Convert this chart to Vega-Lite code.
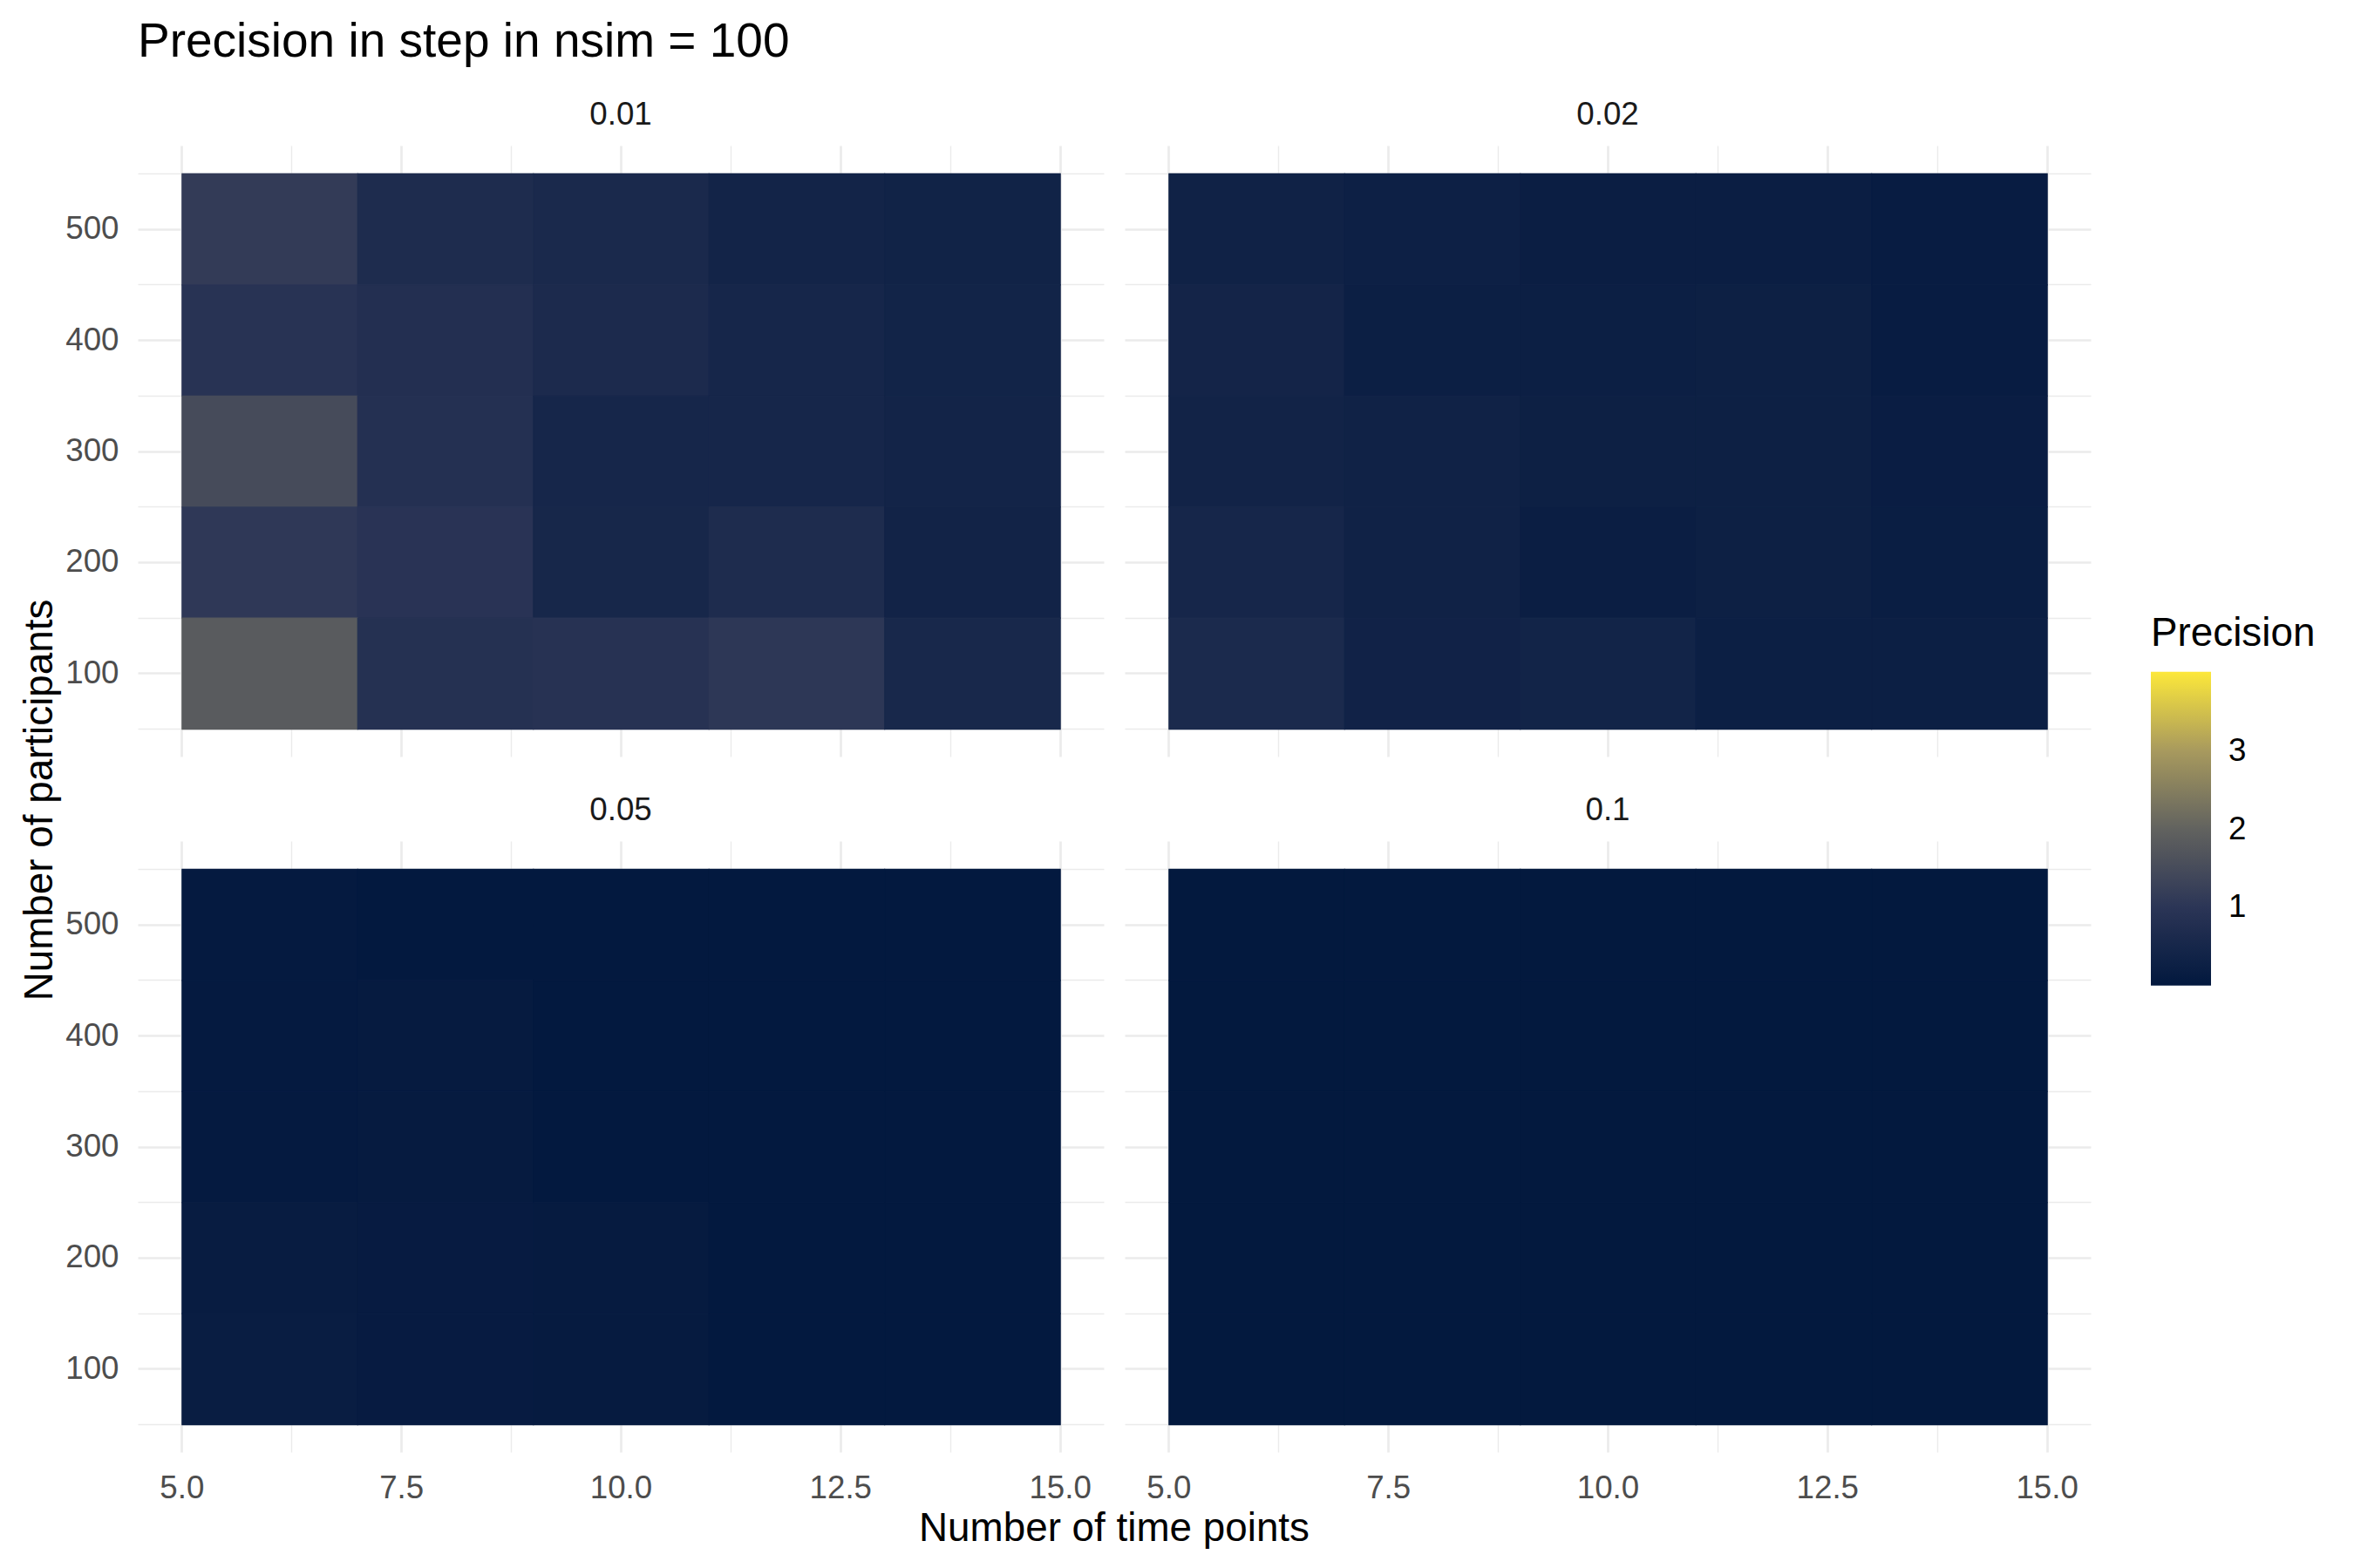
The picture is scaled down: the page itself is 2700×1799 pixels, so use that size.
{
  "$schema": "https://vega.github.io/schema/vega-lite/v6.json",
  "background": "white",
  "padding": {"left": 23, "top": 20, "right": 0, "bottom": 0},
  "title": {"text": "Precision in step in nsim = 100", "anchor": "start", "frame": "group", "fontSize": 55, "fontWeight": "normal", "color": "black", "font": "Liberation Sans", "offset": 37},
  "bounds": "flush",
  "spacing": {"row": 97, "column": 24},
  "data": {"values": [
    {"step": "0.01", "time": 6, "n": 500, "precision": 1.15}, {"step": "0.01", "time": 8, "n": 500, "precision": 0.68}, {"step": "0.01", "time": 10, "n": 500, "precision": 0.6}, {"step": "0.01", "time": 12, "n": 500, "precision": 0.42}, {"step": "0.01", "time": 14, "n": 500, "precision": 0.37},
    {"step": "0.01", "time": 6, "n": 400, "precision": 0.92}, {"step": "0.01", "time": 8, "n": 400, "precision": 0.8}, {"step": "0.01", "time": 10, "n": 400, "precision": 0.63}, {"step": "0.01", "time": 12, "n": 400, "precision": 0.5}, {"step": "0.01", "time": 14, "n": 400, "precision": 0.4},
    {"step": "0.01", "time": 6, "n": 300, "precision": 1.5}, {"step": "0.01", "time": 8, "n": 300, "precision": 0.83}, {"step": "0.01", "time": 10, "n": 300, "precision": 0.5}, {"step": "0.01", "time": 12, "n": 300, "precision": 0.5}, {"step": "0.01", "time": 14, "n": 300, "precision": 0.42},
    {"step": "0.01", "time": 6, "n": 200, "precision": 1.07}, {"step": "0.01", "time": 8, "n": 200, "precision": 0.95}, {"step": "0.01", "time": 10, "n": 200, "precision": 0.52}, {"step": "0.01", "time": 12, "n": 200, "precision": 0.68}, {"step": "0.01", "time": 14, "n": 200, "precision": 0.38},
    {"step": "0.01", "time": 6, "n": 100, "precision": 1.85}, {"step": "0.01", "time": 8, "n": 100, "precision": 0.85}, {"step": "0.01", "time": 10, "n": 100, "precision": 0.9}, {"step": "0.01", "time": 12, "n": 100, "precision": 1.05}, {"step": "0.01", "time": 14, "n": 100, "precision": 0.55},
    {"step": "0.02", "time": 6, "n": 500, "precision": 0.35}, {"step": "0.02", "time": 8, "n": 500, "precision": 0.28}, {"step": "0.02", "time": 10, "n": 500, "precision": 0.22}, {"step": "0.02", "time": 12, "n": 500, "precision": 0.22}, {"step": "0.02", "time": 14, "n": 500, "precision": 0.15},
    {"step": "0.02", "time": 6, "n": 400, "precision": 0.43}, {"step": "0.02", "time": 8, "n": 400, "precision": 0.25}, {"step": "0.02", "time": 10, "n": 400, "precision": 0.25}, {"step": "0.02", "time": 12, "n": 400, "precision": 0.27}, {"step": "0.02", "time": 14, "n": 400, "precision": 0.15},
    {"step": "0.02", "time": 6, "n": 300, "precision": 0.38}, {"step": "0.02", "time": 8, "n": 300, "precision": 0.34}, {"step": "0.02", "time": 10, "n": 300, "precision": 0.27}, {"step": "0.02", "time": 12, "n": 300, "precision": 0.27}, {"step": "0.02", "time": 14, "n": 300, "precision": 0.19},
    {"step": "0.02", "time": 6, "n": 200, "precision": 0.5}, {"step": "0.02", "time": 8, "n": 200, "precision": 0.34}, {"step": "0.02", "time": 10, "n": 200, "precision": 0.22}, {"step": "0.02", "time": 12, "n": 200, "precision": 0.27}, {"step": "0.02", "time": 14, "n": 200, "precision": 0.2},
    {"step": "0.02", "time": 6, "n": 100, "precision": 0.62}, {"step": "0.02", "time": 8, "n": 100, "precision": 0.36}, {"step": "0.02", "time": 10, "n": 100, "precision": 0.4}, {"step": "0.02", "time": 12, "n": 100, "precision": 0.25}, {"step": "0.02", "time": 14, "n": 100, "precision": 0.25},
    {"step": "0.05", "time": 6, "n": 500, "precision": 0.07}, {"step": "0.05", "time": 8, "n": 500, "precision": 0.03}, {"step": "0.05", "time": 10, "n": 500, "precision": 0.03}, {"step": "0.05", "time": 12, "n": 500, "precision": 0.03}, {"step": "0.05", "time": 14, "n": 500, "precision": 0.03},
    {"step": "0.05", "time": 6, "n": 400, "precision": 0.08}, {"step": "0.05", "time": 8, "n": 400, "precision": 0.1}, {"step": "0.05", "time": 10, "n": 400, "precision": 0.03}, {"step": "0.05", "time": 12, "n": 400, "precision": 0.03}, {"step": "0.05", "time": 14, "n": 400, "precision": 0.03},
    {"step": "0.05", "time": 6, "n": 300, "precision": 0.08}, {"step": "0.05", "time": 8, "n": 300, "precision": 0.1}, {"step": "0.05", "time": 10, "n": 300, "precision": 0.03}, {"step": "0.05", "time": 12, "n": 300, "precision": 0.03}, {"step": "0.05", "time": 14, "n": 300, "precision": 0.03},
    {"step": "0.05", "time": 6, "n": 200, "precision": 0.14}, {"step": "0.05", "time": 8, "n": 200, "precision": 0.12}, {"step": "0.05", "time": 10, "n": 200, "precision": 0.1}, {"step": "0.05", "time": 12, "n": 200, "precision": 0.03}, {"step": "0.05", "time": 14, "n": 200, "precision": 0.03},
    {"step": "0.05", "time": 6, "n": 100, "precision": 0.18}, {"step": "0.05", "time": 8, "n": 100, "precision": 0.12}, {"step": "0.05", "time": 10, "n": 100, "precision": 0.1}, {"step": "0.05", "time": 12, "n": 100, "precision": 0.03}, {"step": "0.05", "time": 14, "n": 100, "precision": 0.03},
    {"step": "0.1", "time": 6, "n": 500, "precision": 0.02}, {"step": "0.1", "time": 8, "n": 500, "precision": 0.02}, {"step": "0.1", "time": 10, "n": 500, "precision": 0.02}, {"step": "0.1", "time": 12, "n": 500, "precision": 0.02}, {"step": "0.1", "time": 14, "n": 500, "precision": 0.02},
    {"step": "0.1", "time": 6, "n": 400, "precision": 0.02}, {"step": "0.1", "time": 8, "n": 400, "precision": 0.02}, {"step": "0.1", "time": 10, "n": 400, "precision": 0.02}, {"step": "0.1", "time": 12, "n": 400, "precision": 0.02}, {"step": "0.1", "time": 14, "n": 400, "precision": 0.02},
    {"step": "0.1", "time": 6, "n": 300, "precision": 0.02}, {"step": "0.1", "time": 8, "n": 300, "precision": 0.02}, {"step": "0.1", "time": 10, "n": 300, "precision": 0.02}, {"step": "0.1", "time": 12, "n": 300, "precision": 0.02}, {"step": "0.1", "time": 14, "n": 300, "precision": 0.02},
    {"step": "0.1", "time": 6, "n": 200, "precision": 0.02}, {"step": "0.1", "time": 8, "n": 200, "precision": 0.02}, {"step": "0.1", "time": 10, "n": 200, "precision": 0.02}, {"step": "0.1", "time": 12, "n": 200, "precision": 0.02}, {"step": "0.1", "time": 14, "n": 200, "precision": 0.02},
    {"step": "0.1", "time": 6, "n": 100, "precision": 0.02}, {"step": "0.1", "time": 8, "n": 100, "precision": 0.02}, {"step": "0.1", "time": 10, "n": 100, "precision": 0.02}, {"step": "0.1", "time": 12, "n": 100, "precision": 0.02}, {"step": "0.1", "time": 14, "n": 100, "precision": 0.02}
  ]},
  "transform": [
    {"calculate": "datum.step == '0.01' || datum.step == '0.02' ? 'a' : 'b'", "as": "frow"},
    {"calculate": "datum.step == '0.01' || datum.step == '0.05' ? 'a' : 'b'", "as": "fcol"}
  ],
  "facet": {
    "row": {"field": "frow", "type": "nominal", "header": {"labels": false, "title": "Number of participants", "titleFontSize": 45.8, "titleFont": "Liberation Sans", "titleFontWeight": "normal", "titleColor": "black", "titlePadding": -6}},
    "column": {"field": "fcol", "type": "nominal", "header": {"labels": false, "labelOrient": "bottom", "title": "Number of time points", "titleOrient": "bottom", "titleFontSize": 45.8, "titleFont": "Liberation Sans", "titleFontWeight": "normal", "titleColor": "black", "titlePadding": -4}}
  },
  "spec": {
    "width": 1108,
    "height": 701,
    "layer": [
      {
        "mark": {"type": "rect", "stroke": {"expr": "scale('color', datum.precision)"}, "strokeWidth": 1.2},
        "encoding": {
          "x": {"field": "time", "type": "quantitative", "bin": {"extent": [5, 15], "step": 2, "nice": false},
                "scale": {"domain": [4.5, 15.5], "nice": false, "zero": false},
                "axis": {"values": [5, 6.25, 7.5, 8.75, 10, 11.25, 12.5, 13.75, 15],
                         "labelExpr": "datum.value % 2.5 == 0 ? format(datum.value, '.1f') : ''",
                         "gridWidth": {"condition": {"test": "datum.value % 2.5 == 0", "value": 2.7}, "value": 1.4}}},
          "y": {"field": "n", "type": "quantitative", "bin": {"extent": [50, 550], "step": 100, "nice": false},
                "scale": {"domain": [25, 575], "nice": false, "zero": false},
                "axis": {"values": [50, 100, 150, 200, 250, 300, 350, 400, 450, 500, 550],
                         "labelExpr": "datum.value % 100 == 0 ? format(datum.value, 'd') : ''",
                         "gridWidth": {"condition": {"test": "datum.value % 100 == 0", "value": 2.7}, "value": 1.4}}},
          "color": {"field": "precision", "type": "quantitative",
                    "scale": {"domain": [0, 1.005, 2.01, 3.015, 4.02], "range": ["#02183e", "#2b3556", "#62625f", "#a89a5e", "#fde83a"], "interpolate": "rgb"},
                    "legend": {"title": "Precision", "orient": "none", "legendX": 2309, "legendY": 538, "direction": "vertical",
                               "gradientLength": 360, "gradientThickness": 69, "gradientStrokeWidth": 0,
                               "values": [1, 2, 3], "format": "d", "titleLimit": 600, "titleFontSize": 45.8, "titleFont": "Liberation Sans", "titleFontWeight": "normal", "titleColor": "black",
                               "titlePadding": 20, "labelFontSize": 36.7, "labelFont": "Liberation Sans", "labelColor": "black", "labelOffset": 20}}
        }
      },
      {
        "transform": [{"filter": "datum.time == 6 && datum.n == 500"}],
        "mark": {"type": "text", "fontSize": 36.7, "font": "Liberation Sans", "color": "#1a1a1a", "align": "center", "baseline": "alphabetic"},
        "encoding": {
          "x": {"datum": 10, "type": "quantitative",
                "scale": {"domain": [4.5, 15.5], "nice": false, "zero": false},
                "axis": {"values": [5, 6.25, 7.5, 8.75, 10, 11.25, 12.5, 13.75, 15],
                         "labelExpr": "datum.value % 2.5 == 0 ? format(datum.value, '.1f') : ''",
                         "gridWidth": {"condition": {"test": "datum.value % 2.5 == 0", "value": 2.7}, "value": 1.4}}},
          "y": {"datum": 594, "type": "quantitative",
                "scale": {"domain": [25, 575], "nice": false, "zero": false},
                "axis": {"values": [50, 100, 150, 200, 250, 300, 350, 400, 450, 500, 550],
                         "labelExpr": "datum.value % 100 == 0 ? format(datum.value, 'd') : ''",
                         "gridWidth": {"condition": {"test": "datum.value % 100 == 0", "value": 2.7}, "value": 1.4}}},
          "text": {"field": "step", "type": "nominal"}
        }
      },
      {
        "transform": [{"filter": "datum.time == 6 && datum.n == 500"}],
        "mark": {"type": "text", "fontSize": 36.7, "font": "Liberation Sans", "opacity": 0, "align": "center", "baseline": "top"},
        "encoding": {
          "x": {"datum": 10, "type": "quantitative",
                "scale": {"domain": [4.5, 15.5], "nice": false, "zero": false},
                "axis": {"values": [5, 6.25, 7.5, 8.75, 10, 11.25, 12.5, 13.75, 15],
                         "labelExpr": "datum.value % 2.5 == 0 ? format(datum.value, '.1f') : ''",
                         "gridWidth": {"condition": {"test": "datum.value % 2.5 == 0", "value": 2.7}, "value": 1.4}}},
          "y": {"datum": 10, "type": "quantitative",
                "scale": {"domain": [25, 575], "nice": false, "zero": false},
                "axis": {"values": [50, 100, 150, 200, 250, 300, 350, 400, 450, 500, 550],
                         "labelExpr": "datum.value % 100 == 0 ? format(datum.value, 'd') : ''",
                         "gridWidth": {"condition": {"test": "datum.value % 100 == 0", "value": 2.7}, "value": 1.4}}},
          "text": {"field": "step", "type": "nominal"}
        }
      }
    ]
  },
  "config": {
    "view": {"stroke": null},
    "font": "Liberation Sans",
    "axis": {"title": null, "grid": true, "gridColor": "#ebebeb", "ticks": false, "domain": false, "zindex": 0,
             "labelFontSize": 36.7, "labelColor": "#4d4d4d", "labelFont": "Liberation Sans",
             "labelFlush": false, "labelOverlap": false},
    "axisX": {"labelPadding": 23},
    "axisY": {"labelPadding": 22}
  }
}
